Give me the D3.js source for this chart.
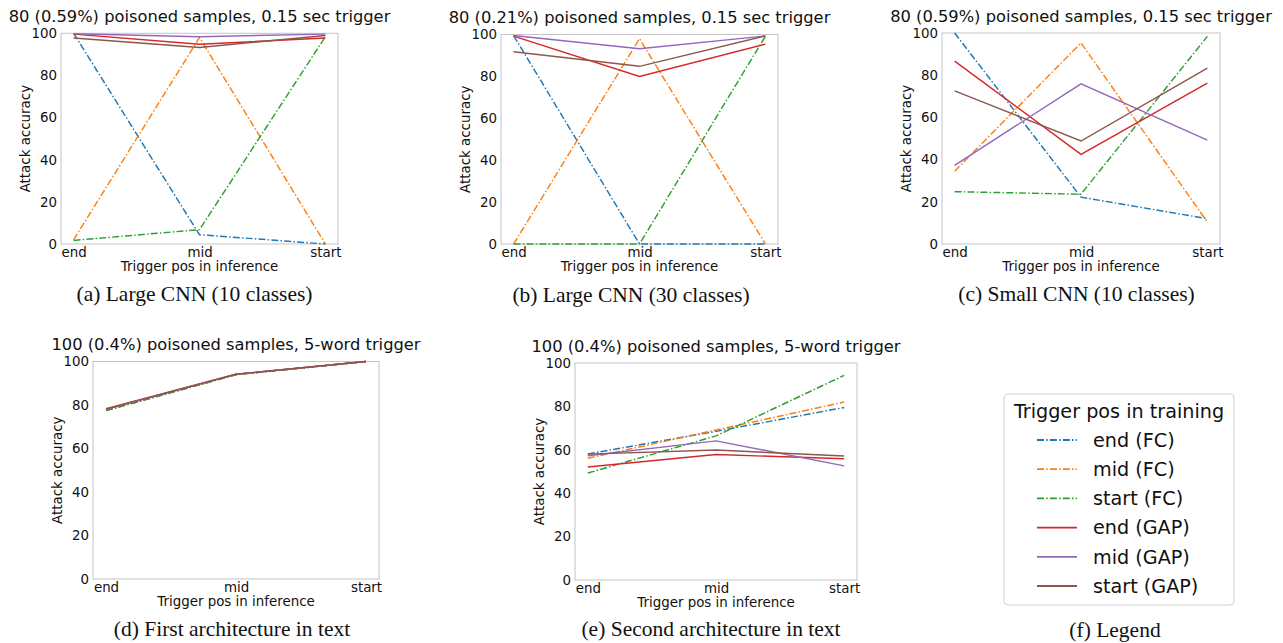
<!DOCTYPE html>
<html><head><meta charset="utf-8">
<script src="https://cdn.jsdelivr.net/npm/d3@7"></script>
<style>body{margin:0;background:#fff}svg{display:block}</style>
</head><body>
<svg id="c" width="1283" height="643"></svg>
<script>
// ---- data ----
const categories = ["end", "mid", "start"];
const seriesNames = ["end (FC)", "mid (FC)", "start (FC)", "end (GAP)", "mid (GAP)", "start (GAP)"];
const seriesColors = ["#1f77b4", "#ff7f0e", "#2ca02c", "#d62728", "#9467bd", "#8c564b"];
const seriesDashed = [true, true, true, false, false, false];
const yTicks = [0, 20, 40, 60, 80, 100];

const panelA = [[100, 4.4, 0], [2, 98, 0], [1.7, 6.8, 98.4], [99.6, 94.8, 97.8], [99.8, 98.4, 99.6], [97.8, 93.3, 99]];
const panelB = [[99.5, 0, 0], [0, 98, 0], [0, 0, 99.2], [99.2, 80, 95.4], [99.5, 93.2, 99.3], [91.8, 84.8, 99.3]];
const panelC = [[100, 22.2, 12], [34.5, 95.3, 10.4], [24.8, 23.6, 98.4], [86.7, 42.5, 76.2], [37.3, 75.9, 49.2], [72.6, 48.8, 83.3]];
const panelD = [[77.5, 94, 100], [77.6, 94, 100], [77.4, 93.9, 100], [78.3, 94.2, 100], [78, 94.1, 100], [78.1, 94.1, 100]];
const panelE = [[58.1, 68.5, 79.5], [56.1, 69.1, 82], [49.3, 66.4, 94.3], [52.1, 57.8, 55.9], [57.3, 64.1, 52.6], [58, 59.9, 57.1]];

const titles = [
  "80 (0.59%) poisoned samples, 0.15 sec trigger",
  "80 (0.21%) poisoned samples, 0.15 sec trigger",
  "80 (0.59%) poisoned samples, 0.15 sec trigger",
  "100 (0.4%) poisoned samples, 5-word trigger",
  "100 (0.4%) poisoned samples, 5-word trigger"
];
const captions = [
  "(a) Large CNN (10 classes)",
  "(b) Large CNN (30 classes)",
  "(c) Small CNN (10 classes)",
  "(d) First architecture in text",
  "(e) Second architecture in text",
  "(f) Legend"
];
const xLabel = "Trigger pos in inference";
const yLabel = "Attack accuracy";
const legendTitle = "Trigger pos in training";

// ---- layout ----
const panels = [
  {data: panelA, x0: 61, x1: 338, y0: 33.3, y1: 244, cap: [194.5, 301]},
  {data: panelB, x0: 501, x1: 778, y0: 34.5, y1: 244, cap: [631, 302]},
  {data: panelC, x0: 942, x1: 1220, y0: 33, y1: 244, cap: [1076.5, 301]},
  {data: panelD, x0: 93, x1: 379, y0: 361.5, y1: 579, cap: [232, 636]},
  {data: panelE, x0: 575, x1: 857, y0: 363, y1: 580, cap: [711, 636]}
];
const FONT = "DejaVu Sans, sans-serif";
const svg = d3.select("#c");

function dashFor(i) { return seriesDashed[i] ? "7,2.2,1.5,2.2" : null; }

panels.forEach((p, pi) => {
  const w = p.x1 - p.x0;
  const pad = w / 22;
  const x = d3.scalePoint().domain(categories).range([p.x0 + pad, p.x1 - pad]);
  const y = d3.scaleLinear().domain([0, 100]).range([p.y1, p.y0]);
  const g = svg.append("g");

  // frame
  g.append("rect").attr("x", p.x0).attr("y", p.y0).attr("width", w).attr("height", p.y1 - p.y0)
    .attr("fill", "none").attr("stroke", "#c4c4c4").attr("stroke-width", 1);

  // y axis
  const ya = g.append("g").attr("transform", `translate(${p.x0},0)`)
    .call(d3.axisLeft(y).tickValues(yTicks).tickSize(0).tickPadding(4).tickFormat(d3.format("d")));
  ya.select(".domain").remove();
  ya.selectAll("text").attr("font-family", FONT).attr("font-size", 13.4).attr("fill", "#111");

  // x axis
  const xa = g.append("g").attr("transform", `translate(0,${p.y1})`)
    .call(d3.axisBottom(x).tickSize(0).tickPadding(3));
  xa.select(".domain").remove();
  xa.selectAll("text").attr("font-family", FONT).attr("font-size", 13.4).attr("fill", "#111");

  // lines
  const line = d3.line().x((d, i) => x(categories[i])).y(d => y(d));
  p.data.forEach((vals, si) => {
    g.append("path").datum(vals).attr("d", line)
      .attr("fill", "none").attr("stroke", seriesColors[si]).attr("stroke-width", 1.45)
      .attr("stroke-dasharray", dashFor(si));
  });

  const cx = (p.x0 + p.x1) / 2, cy = (p.y0 + p.y1) / 2;
  // title
  g.append("text").attr("x", cx).attr("y", p.y0 - 11.5).attr("text-anchor", "middle")
    .attr("font-family", FONT).attr("font-size", 16.3).attr("fill", "#111").text(titles[pi]);
  // x label
  g.append("text").attr("x", cx).attr("y", p.y1 + 27).attr("text-anchor", "middle")
    .attr("font-family", FONT).attr("font-size", 13.4).attr("fill", "#111").text(xLabel);
  // y label
  g.append("text").attr("transform", `translate(${p.x0 - 31},${cy}) rotate(-90)`).attr("text-anchor", "middle")
    .attr("font-family", FONT).attr("font-size", 13.4).attr("fill", "#111").text(yLabel);
  // caption
  svg.append("text").attr("x", p.cap[0]).attr("y", p.cap[1]).attr("text-anchor", "middle")
    .attr("font-family", "Liberation Serif, Times New Roman, serif").attr("font-size", 21.5).attr("fill", "#111")
    .text(captions[pi]);
});

// ---- legend ----
const lg = svg.append("g");
lg.append("rect").attr("x", 1004).attr("y", 394).attr("width", 230).attr("height", 211).attr("rx", 4)
  .attr("fill", "#fff").attr("stroke", "#d0d0d0").attr("stroke-width", 1);
lg.append("text").attr("x", 1119).attr("y", 417.5).attr("text-anchor", "middle")
  .attr("font-family", FONT).attr("font-size", 19.2).attr("fill", "#111").text(legendTitle);
const rowY = d3.scaleLinear().domain([0, 5]).range([440, 586]);
seriesNames.forEach((name, i) => {
  const yy = rowY(i);
  lg.append("line").attr("x1", 1037).attr("x2", 1077).attr("y1", yy).attr("y2", yy)
    .attr("stroke", seriesColors[i]).attr("stroke-width", 1.8).attr("stroke-dasharray", dashFor(i));
  lg.append("text").attr("x", 1093).attr("y", yy + 6.8)
    .attr("font-family", FONT).attr("font-size", 19.2).attr("fill", "#111").text(name);
});
svg.append("text").attr("x", 1115).attr("y", 636.5).attr("text-anchor", "middle")
  .attr("font-family", "Liberation Serif, Times New Roman, serif").attr("font-size", 21.5).attr("fill", "#111")
  .text(captions[5]);
</script>
</body></html>
